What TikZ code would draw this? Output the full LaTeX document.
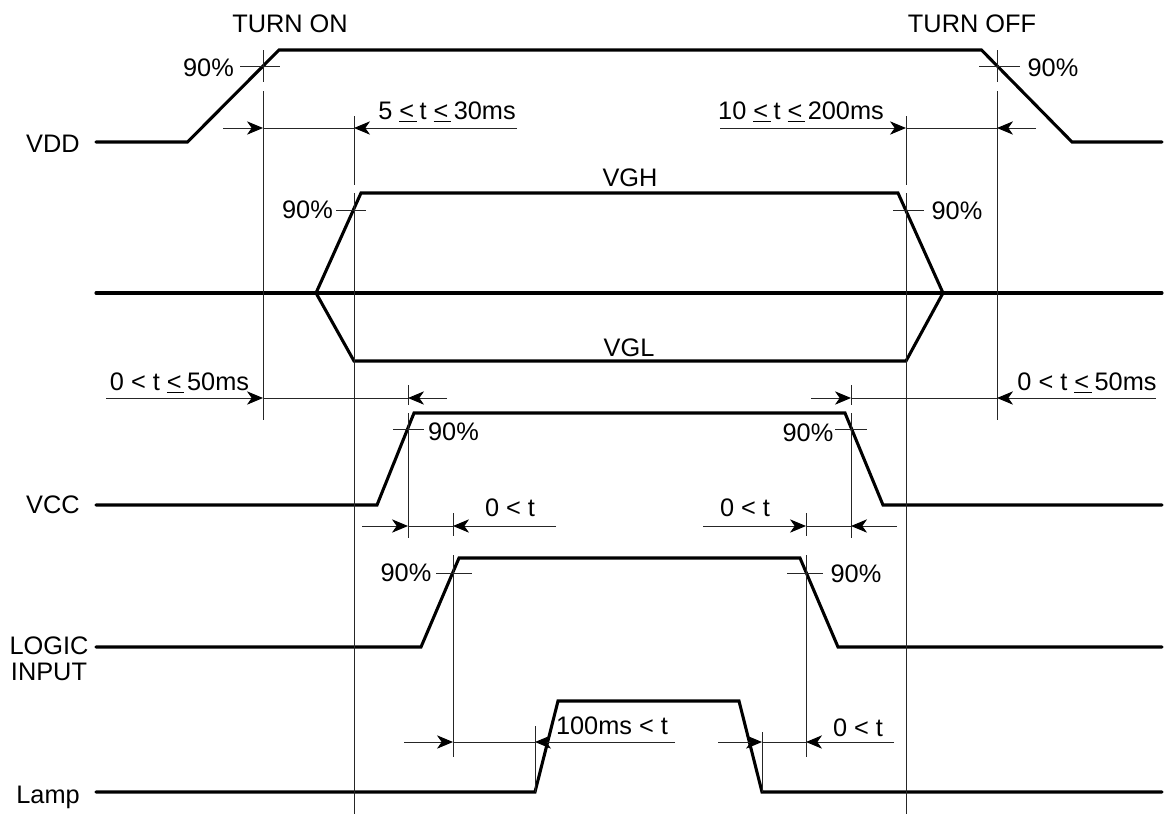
\documentclass[tikz,border=0pt]{standalone}
\usepackage{fontspec}
\setmainfont{Liberation Sans}
\usetikzlibrary{arrows.meta}
\begin{document}
\begin{tikzpicture}[x=0.75pt,y=-0.75pt,
  sig/.style={line width=2.3pt,line cap=round,line join=miter},
  thin/.style={line width=0.75pt,draw=black!85},
  dim/.style={thin,-{Stealth[length=12pt,width=10pt,inset=3.5pt,black]}},
  lbl/.style={font=\fontsize{19pt}{22pt}\selectfont,inner sep=0pt,anchor=base},
  lblr/.style={lbl,anchor=base east}]
\useasboundingbox (0,0) rectangle (1167,814);
\newcommand{\myle}{\underline{<\kern2pt}\kern2pt}

% ---------- signals ----------
\draw[sig] (96,142) -- (187.5,142) -- (279,50) -- (981.5,50) -- (1072,142) -- (1162,142);
\draw[sig] (96,293) -- (1162,293);
\draw[sig] (316,293) -- (361,193) -- (898,193) -- (943,293) -- (906,361) -- (354,361) -- cycle;
\draw[sig] (96,505) -- (377,505) -- (414,413) -- (845,413) -- (883,505) -- (1162,505);
\draw[sig] (96,647) -- (421,647) -- (459,558) -- (800,558) -- (838,647) -- (1162,647);
\draw[sig] (96,792) -- (535,792) -- (558,701) -- (739,701) -- (762,792) -- (1162,792);

% ---------- vertical reference lines ----------
\draw[thin] (263,50) -- (263,82);   \draw[thin] (263,91) -- (263,420);
\draw[thin] (240,66) -- (280,66);
\draw[thin] (997,50) -- (997,82);   \draw[thin] (997,91) -- (997,420);
\draw[thin] (979,66) -- (1019.5,66);
\draw[thin] (354,116) -- (354,185);  \draw[thin] (354,193) -- (354,814);
\draw[thin] (336,210) -- (366,210);
\draw[thin] (906,116) -- (906,185);  \draw[thin] (906,193) -- (906,814);
\draw[thin] (893,210) -- (924,210);
\draw[thin] (408,385) -- (408,405);  \draw[thin] (408,413) -- (408,538);
\draw[thin] (393,429) -- (424,429);
\draw[thin] (851,385) -- (851,405);  \draw[thin] (851,413) -- (851,538);
\draw[thin] (835,429) -- (867,429);
\draw[thin] (453,513) -- (453,536);  \draw[thin] (453,555) -- (453,757);
\draw[thin] (436,573) -- (472,573);
\draw[thin] (806,513) -- (806,536);  \draw[thin] (806,555) -- (806,757);
\draw[thin] (787,573) -- (823,573);
\draw[thin] (535,726) -- (535,792);
\draw[thin] (762,732) -- (762,792);

% ---------- dimension rows ----------
\draw[dim] (223,128) -- (263,128);
\draw[thin] (263,128) -- (354,128);
\draw[dim] (517,128) -- (354,128);
\draw[dim] (720,128) -- (906,128);
\draw[thin] (906,128) -- (997,128);
\draw[dim] (1036,128) -- (997,128);

\draw[dim] (106,398) -- (263,398);
\draw[thin] (263,398) -- (408,398);
\draw[dim] (447,398) -- (408,398);
\draw[dim] (811,398) -- (851,398);
\draw[thin] (851,398) -- (997,398);
\draw[dim] (1156,398) -- (997,398);

\draw[dim] (362,526) -- (408,526);
\draw[thin] (408,526) -- (453,526);
\draw[dim] (556,526) -- (453,526);
\draw[dim] (703,526) -- (806,526);
\draw[thin] (806,526) -- (851,526);
\draw[dim] (897,526) -- (851,526);

\draw[dim] (404,742) -- (453,742);
\draw[thin] (453,742) -- (535,742);
\draw[dim] (675,742) -- (535,742);
\draw[dim] (718,742) -- (762,742);
\draw[thin] (762,742) -- (806,742);
\draw[dim] (894,742) -- (806,742);

% ---------- labels ----------
\node[lbl] (ton) at (290,32.6) {TURN ON};
\node[lbl] (toff) at (972,32.6) {TURN OFF};
\node[lblr] (vdd) at (80,152.5) {VDD};
\node[lbl] (p1) at (208.5,76.6) {90\%};
\node[lbl] (p2) at (1053,76.6) {90\%};
\node[lbl] (d1) at (447,119.6) {5 \myle t \myle 30ms};
\node[lbl] (d2) at (801,119.6) {10 \myle t \myle 200ms};
\node[lbl] (vgh) at (630,186.6) {VGH};
\node[lbl] (p3) at (307.5,218.6) {90\%};
\node[lbl] (p4) at (957,219.6) {90\%};
\node[lbl] (vgl) at (629,356.6) {VGL};
\node[lbl] (d3) at (179.5,390.6) {0 < t \myle 50ms};
\node[lbl] (d4) at (1087,390.6) {0 < t \myle 50ms};
\node[lbl] (p5) at (453.5,440.6) {90\%};
\node[lbl] (p6) at (808,441.6) {90\%};
\node[lblr] (vcc) at (80,513.5) {VCC};
\node[lbl] (d5) at (510,516.6) {0 < t};
\node[lbl] (d6) at (745,516.6) {0 < t};
\node[lbl] (p7) at (406,581.6) {90\%};
\node[lbl] (p8) at (856,582.6) {90\%};
\node[lbl] (logic) at (49,654) {LOGIC};
\node[lbl] (input) at (49,680) {INPUT};
\node[lbl] (d7) at (612,734.6) {100ms < t};
\node[lbl] (d8) at (858,736.6) {0 < t};
\node[lblr] (lamp) at (80,803) {Lamp};
\end{tikzpicture}
\end{document}
